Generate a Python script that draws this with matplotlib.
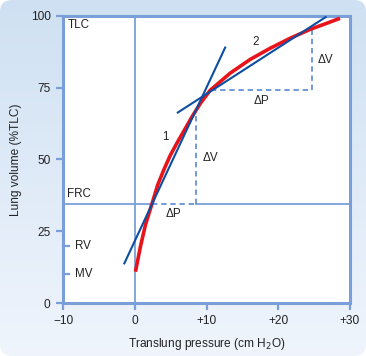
import numpy as np
import matplotlib
matplotlib.use("Agg")
import matplotlib.pyplot as plt
from matplotlib.patches import FancyBboxPatch

plt.rcParams['font.family'] = ['Liberation Sans', 'DejaVu Sans']

# Pressure-volume curve
pressure = [0.1, 0.79, 1.49, 2.42, 3.2, 4.04, 4.97, 6.0, 7.06, 8.0, 9.15, 10.5,
            13.3, 16.1, 18.9, 21.7, 24.5, 26.8, 28.6]
volume = [10.9, 19.6, 27.2, 34.7, 41.1, 46.3, 51.5, 56.2, 60.8, 64.9, 69.5, 74.0,
          80.0, 84.8, 88.7, 92.2, 95.3, 97.4, 99.1]

# Tangent lines (endpoints)
line1_x = [-1.45, 12.6]
line1_y = [13.8, 88.9]
line2_x = [6.0, 26.6]
line2_y = [66.3, 99.5]

# Reference levels
frc = 34.5
rv = 20
mv = 10
x_ticks = [-10, 0, 10, 20, 30]
x_ticklabels = ['\u221210', '0', '+10', '+20', '+30']
y_ticks = [0, 25, 50, 75, 100]

# Delta triangles
dp1_x = [2.46, 8.6]
dv1_y = [frc, 66.6]
dp2_x = [10.6, 24.7]
dp2_y = 74.2
dv2_y = [74.2, 95.1]

red = '#e8141c'
blue = '#0b4ea2'
axblue = '#7a9fd8'

fig = plt.figure(figsize=(3.66, 3.56), dpi=100)
fig.patch.set_facecolor('white')

# background panel with gradient
bg = fig.add_axes([0, 0, 1, 1])
bg.set_xlim(0, 366)
bg.set_ylim(0, 356)
bg.axis('off')
top = np.array([0.81, 0.88, 0.95])
bot = np.array([0.94, 0.96, 0.99])
t = np.linspace(0, 1, 256)[:, None]
grad = (top[None, :] * (1 - t) + bot[None, :] * t)[:, None, :]
im = bg.imshow(grad, extent=[0, 366, 0, 356], aspect='auto', origin='upper')
panel = FancyBboxPatch((0, 0), 366, 356, boxstyle="round,pad=0,rounding_size=12",
                       transform=bg.transData, facecolor='none', edgecolor='none')
bg.add_patch(panel)
im.set_clip_path(panel)

ax = fig.add_axes([63 / 366, 1 - 303 / 356, (350 - 63) / 366, (303 - 15.7) / 356])
ax.set_facecolor('white')
ax.set_xlim(-10, 30)
ax.set_ylim(0, 100)
for s in ax.spines.values():
    s.set_color(axblue)
    s.set_linewidth(2.2)

ax.set_xticks(x_ticks)
ax.set_xticklabels(x_ticklabels)
ax.set_yticks(y_ticks)
ax.tick_params(direction='out', length=5, width=1.6, color=axblue,
               labelsize=8.6, pad=4, labelcolor='#222222')

# reference lines
ax.axvline(0, color=axblue, lw=1.3, zorder=1)
ax.plot([-10, dp1_x[0]], [frc, frc], color=axblue, lw=1.3, zorder=1)
ax.plot([dp1_x[1], 30], [frc, frc], color=axblue, lw=1.3, zorder=1)

# inner ticks for RV and MV
for v in [rv, mv]:
    ax.plot([-10, -9.2], [v, v], color=axblue, lw=1.6, clip_on=False)

# dashed delta lines
dash = dict(color='#4a7fd0', lw=1.1, ls=(0, (3.5, 2.5)), zorder=2)
ax.plot(dp1_x, [frc, frc], **dash)
ax.plot([dp1_x[1], dp1_x[1]], dv1_y, **dash)
ax.plot(dp2_x, [dp2_y, dp2_y], **dash)
ax.plot([dp2_x[1], dp2_x[1]], dv2_y, **dash)

# curve and tangents
ax.plot(pressure, volume, color=red, lw=2.6, solid_capstyle='butt',
        solid_joinstyle='round', zorder=3)
ax.plot(line1_x, line1_y, color=blue, lw=1.5, zorder=4)
ax.plot(line2_x, line2_y, color=blue, lw=1.5, zorder=4)

fs = 8.4
tc = '#222222'
ax.text(-9.4, 96.8, 'TLC', fontsize=fs, color=tc, va='center', ha='left')
ax.text(-9.4, frc + 1.3, 'FRC', fontsize=fs, color=tc, va='bottom', ha='left')
ax.text(-8.3, rv, 'RV', fontsize=fs, color=tc, va='center', ha='left')
ax.text(-8.3, mv, 'MV', fontsize=fs, color=tc, va='center', ha='left')
ax.text(4.3, 57.9, '1', fontsize=fs, color=tc, va='center', ha='center')
ax.text(16.8, 91.0, '2', fontsize=fs, color=tc, va='center', ha='center')
ax.text(10.6, 50.6, '\u0394V', fontsize=fs, color=tc, va='center', ha='center')
ax.text(5.4, 31.0, '\u0394P', fontsize=fs, color=tc, va='center', ha='center')
ax.text(17.7, 70.4, '\u0394P', fontsize=fs, color=tc, va='center', ha='center')
ax.text(26.6, 84.6, '\u0394V', fontsize=fs, color=tc, va='center', ha='center')

ax.set_xlabel('Translung pressure (cm H$_2$O)', fontsize=8.6, color=tc, labelpad=6)
ax.set_ylabel('Lung volume (%TLC)', fontsize=8.6, color=tc, labelpad=6)

fig.savefig('out.png', dpi=100)
